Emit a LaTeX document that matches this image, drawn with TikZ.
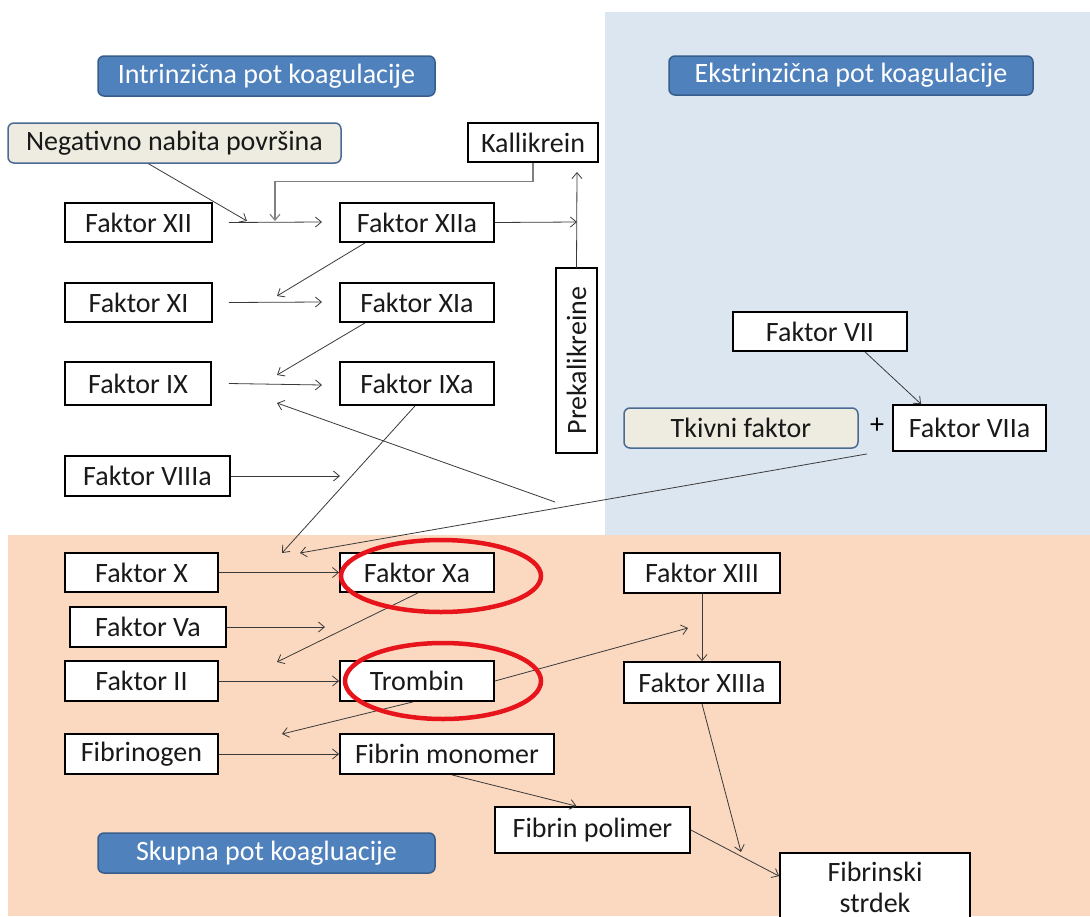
\documentclass[tikz,border=0pt]{standalone}
\usepackage{fontspec}
\setmainfont{Carlito}
\usetikzlibrary{arrows.meta,calc}
\definecolor{hdrblue}{HTML}{4F81BD}
\definecolor{hdrborder}{HTML}{385D8A}
\definecolor{srcborder}{HTML}{4A6A94}
\definecolor{beige}{HTML}{EEECE1}
\definecolor{bgblue}{HTML}{DCE6F1}
\definecolor{bgpeach}{HTML}{FBD9C0}
\definecolor{lnc}{HTML}{3A3A3A}
\definecolor{kline}{HTML}{7F7F7F}
\definecolor{hlred}{HTML}{E8141B}
\newcommand{\bxfont}{\fontsize{28}{33}\selectfont}
\begin{document}
\begin{tikzpicture}[x={(1pt,0pt)},y={(0pt,-1pt)},
  bx/.style={draw=black, line width=1.8pt, fill=white, inner sep=0pt, font=\bxfont, text=black!90},
  hdr/.style={draw=hdrborder, line width=1.5pt, fill=hdrblue, rounded corners=6pt, text=white, inner sep=0pt, font=\bxfont},
  src/.style={draw=srcborder, line width=1.5pt, fill=beige, rounded corners=6pt, inner sep=0pt, font=\bxfont, text=black!90},
  arr/.style={-{Straight Barb[length=6pt,width=10pt]}, line width=0.8pt, draw=lnc},
  hl/.style={draw=hlred, line width=4.5pt}
]
\useasboundingbox (0,0) rectangle (1090,916);
\clip (0,0) rectangle (1090,916);
% backgrounds
\fill[white] (0,0) rectangle (1090,916);
\fill[bgblue] (605,12) rectangle (1090,535);
\fill[bgpeach] (8,535) rectangle (1090,916);

% headers
\node[hdr, minimum width=337pt, minimum height=40pt] (hint) at (266.5,76) {Intrinzična pot koagulacije};
\node[hdr, minimum width=364pt, minimum height=39pt] (hext) at (851,75.5) {Ekstrinzična pot koagulacije};
\node[hdr, minimum width=337pt, minimum height=40pt] (hsk) at (266.5,853) {Skupna pot koagluacije};

% source boxes
\node[src, minimum width=333pt, minimum height=40pt] (neg) at (174.5,143) {Negativno nabita površina};
\node[src, minimum width=234pt, minimum height=40pt] (tkiv) at (741,428) {Tkivni faktor};
\node[font=\bxfont, inner sep=0pt] (plus) at (877,426) {+};

% boxes
\node[bx, minimum width=130pt, minimum height=39pt] (kal) at (533,142.5) {Kallikrein};
\node[bx, minimum width=147pt, minimum height=39pt] (fxii) at (138.5,222.5) {Faktor XII};
\node[bx, minimum width=154pt, minimum height=39pt] (fxiia) at (417,222.5) {Faktor XIIa};
\node[bx, minimum width=147pt, minimum height=39pt] (fxi) at (138.5,302.5) {Faktor XI};
\node[bx, minimum width=154pt, minimum height=39pt] (fxia) at (417,302.5) {Faktor XIa};
\node[bx, minimum width=146pt, minimum height=43pt] (fix) at (138,383.5) {Faktor IX};
\node[bx, minimum width=154pt, minimum height=43pt] (fixa) at (417,383.5) {Faktor IXa};
\node[bx, minimum width=165pt, minimum height=40pt] (fviiia) at (147.5,476) {Faktor VIIIa};
\node[bx, rotate=90, minimum width=185pt, minimum height=41pt] (prek) at (576.5,360.5) {Prekalikreine};
\node[bx, minimum width=174pt, minimum height=39pt] (fvii) at (820,331.5) {Faktor VII};
\node[bx, minimum width=153pt, minimum height=46pt] (fviia) at (969.5,428) {Faktor VIIa};
\node[bx, minimum width=153pt, minimum height=39pt] (fx) at (141.5,572.5) {Faktor X};
\node[bx, minimum width=154pt, minimum height=39pt] (fxa) at (417,572.5) {Faktor Xa};
\node[bx, minimum width=156pt, minimum height=40pt] (fva) at (148,627) {Faktor Va};
\node[bx, minimum width=153pt, minimum height=40pt] (fii) at (141.5,681) {Faktor II};
\node[bx, minimum width=154pt, minimum height=40pt] (trom) at (417,681) {Trombin};
\node[bx, minimum width=153pt, minimum height=40pt] (fgen) at (141.5,754) {Fibrinogen};
\node[bx, minimum width=214pt, minimum height=40pt] (fmon) at (447,754) {Fibrin monomer};
\node[bx, minimum width=156pt, minimum height=40pt] (fxiii) at (702,573) {Faktor XIII};
\node[bx, minimum width=156pt, minimum height=41pt] (fxiiia) at (702,682.5) {Faktor XIIIa};
\node[bx, minimum width=195pt, minimum height=46pt] (fpol) at (592.5,830) {Fibrin polimer};
\node[bx, minimum width=190pt, minimum height=76pt] (strd) at (875,891) {};
\node[align=center, inner sep=0pt, font=\fontsize{28}{31}\selectfont, text=black!90] (strdt) at (875,887) {Fibrinski\\strdek};

% free ends
\coordinate (j1) at (247,221);
\coordinate (j2) at (275,221);
\coordinate (e12) at (322,222);
\coordinate (k1) at (577,222);
\coordinate (k2) at (577,172);
\coordinate (a11) at (277,296);
\coordinate (e11) at (322,302);
\coordinate (a9) at (277,375);
\coordinate (e9) at (322,385);
\coordinate (p1) at (555,502);
\coordinate (a9c) at (277,403);
\coordinate (a8) at (340,476);
\coordinate (a10) at (282,553);
\coordinate (a10b) at (300,553);
\coordinate (a2) at (277,662);
\coordinate (a5) at (325,627);
\coordinate (a13) at (688,628);
\coordinate (a1) at (282,734);
\coordinate (a14) at (741,852);

% connectors
\draw[arr] ($(neg.south)+(-26,0)$) -- (j1);
\draw[arr] ($(fxii.east)+(16,0)$) -- (e12);
\draw[arr, draw=kline, line width=1.1pt] (kal.south) -- ++(0,19) -| (j2);
\draw[arr] (fxiia.east) -- (k1);
\draw[arr] ($(prek.center)+(0,-92.5)$) -- (k2);
\draw[arr] ($(fxiia.south)+(-52,0)$) -- (a11);
\draw[arr] ($(fxi.east)+(16,0)$) -- (e11);
\draw[arr] ($(fxia.south)+(-52,0)$) -- (a9);
\draw[arr] ($(fix.east)+(17,0)$) -- (e9);
\draw[arr] (p1) -- (a9c);
\draw[arr] (fviiia.east) -- (a8);
\draw[arr] ($(fixa.south)+(-2,0)$) -- (a10);
\draw[arr] ($(fviia.south west)+(-25,2)$) -- (a10b);
\draw[arr] ($(fvii.south)+(45,0)$) -- ($(fviia.north west)+(29,0)$);
\draw[arr] (fx.east) -- (fxa.west);
\draw[arr] ($(fxa.south)+(1,0)$) -- (a2);
\draw[arr] (fva.east) -- (a5);
\draw[arr] (fii.east) -- (trom.west);
\draw[arr] (trom.east) -- (a13);
\draw[arr] ($(trom.south)+(-4,0)$) -- (a1);
\draw[arr] (fgen.east) -- (fmon.west);
\draw[arr] ($(fmon.south)+(5,0)$) -- ($(fpol.north)+(-16,0)$);
\draw[arr] (fxiii.south) -- (fxiiia.north);
\draw[arr] (fxiiia.south) -- (a14);
\draw[arr] (fpol.east) -- ($(strd.north west)+(0,24)$);

% highlight ellipses
\draw[hl] (441,576) ellipse [x radius=100, y radius=36];
\draw[hl] (443,681) ellipse [x radius=98, y radius=38];
\end{tikzpicture}
\end{document}
